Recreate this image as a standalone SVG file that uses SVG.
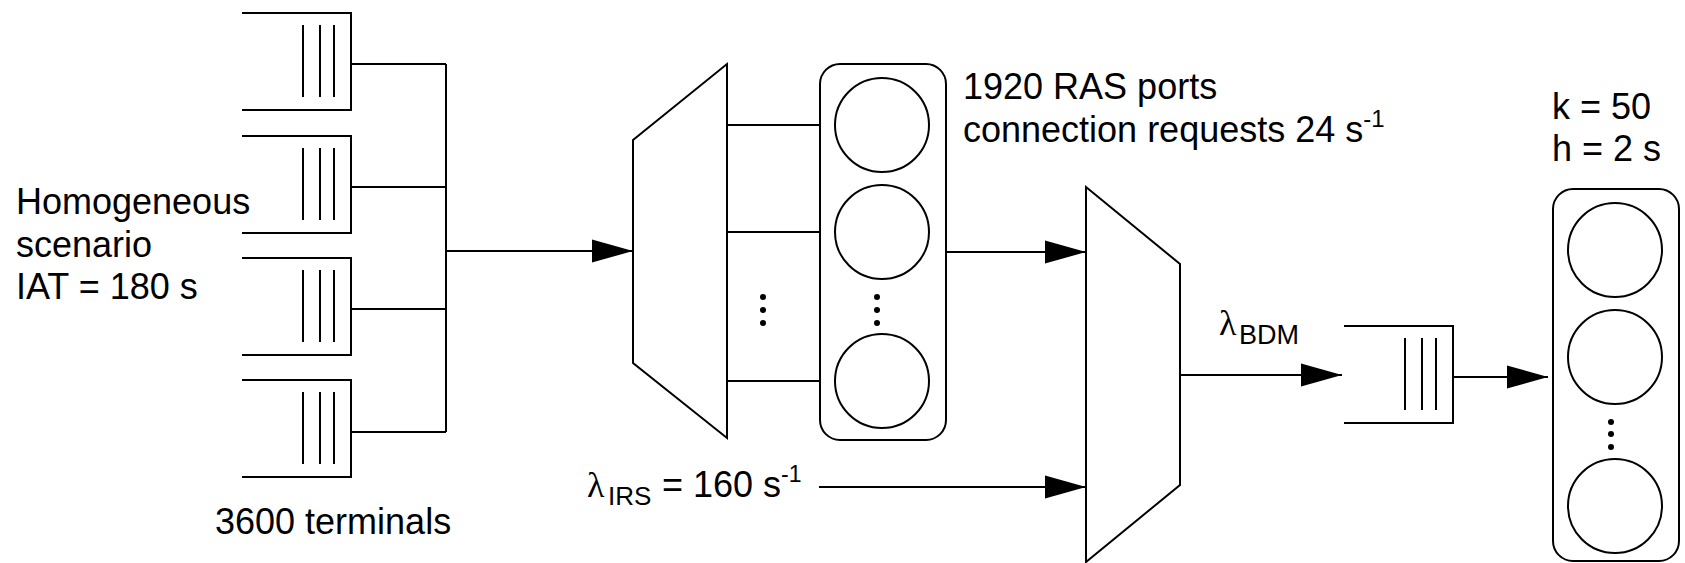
<svg xmlns="http://www.w3.org/2000/svg" width="1685" height="563" viewBox="0 0 1685 563">
<style>
.s{fill:none;stroke:#000;stroke-width:2}
.w{fill:#fff;stroke:#000;stroke-width:2}
.t{font-family:"Liberation Sans",Arial,Helvetica,sans-serif;font-size:36px;fill:#000}
.g{font-family:"Liberation Serif","Times New Roman",serif;font-size:36px;fill:#000}
.sub{font-family:"Liberation Sans",Arial,Helvetica,sans-serif;font-size:26px;fill:#000}
.d{fill:#000}
</style>
<defs>
<marker id="ah" markerUnits="userSpaceOnUse" markerWidth="42" markerHeight="24" refX="41" refY="12" orient="auto">
<path d="M0,0.5 L41,12 L0,23.5 z" fill="#000"/>
</marker>
<g id="queue">
<path class="s" d="M0,0 H109 V97 H0"/>
<path class="s" d="M61,12 V84 M78,12 V84 M92,12 V84"/>
</g>
</defs>
<rect width="1685" height="563" fill="#fff"/>

<g id="connectors">
<path class="s" d="M351,64 H446 M351,187 H446 M351,309 H446 M351,432 H446 M446,64 V432"/>
<path class="s" d="M446,251 H633" marker-end="url(#ah)"/>
<path class="s" d="M727,125 H820 M727,232 H820 M727,381 H820"/>
<path class="s" d="M946,252 H1086" marker-end="url(#ah)"/>
<path class="s" d="M819,487 H1086" marker-end="url(#ah)"/>
<path class="s" d="M1180,375 H1342" marker-end="url(#ah)"/>
<path class="s" d="M1454,377 H1548" marker-end="url(#ah)"/>
</g>

<g id="terminal-queue-1"><use href="#queue" transform="translate(242,13)"/></g>
<g id="terminal-queue-2"><use href="#queue" transform="translate(242,136)"/></g>
<g id="terminal-queue-3"><use href="#queue" transform="translate(242,258)"/></g>
<g id="terminal-queue-4"><use href="#queue" transform="translate(242,380)"/></g>

<g id="scenario-label">
<text class="t" x="16" y="214">Homogeneous</text>
<text class="t" x="16" y="257">scenario</text>
<text class="t" x="16" y="299">IAT = 180 s</text>
</g>
<g id="terminals-label">
<text class="t" x="215" y="534">3600 terminals</text>
</g>

<g id="mux-1">
<path class="w" d="M633,140 L727,64 V438 L633,363 Z"/>
<circle class="d" cx="763" cy="297" r="3"/>
<circle class="d" cx="763" cy="310" r="3"/>
<circle class="d" cx="763" cy="323" r="3"/>
</g>

<g id="ras-ports">
<rect class="s" x="820" y="64" width="126" height="376" rx="20" ry="20"/>
<circle class="s" cx="882" cy="125" r="47"/>
<circle class="s" cx="882" cy="232" r="47"/>
<circle class="s" cx="882" cy="381" r="47"/>
<circle class="d" cx="877" cy="297" r="3"/>
<circle class="d" cx="877" cy="310" r="3"/>
<circle class="d" cx="877" cy="323" r="3"/>
</g>
<g id="ras-label">
<text class="t" x="963" y="99">1920 RAS ports</text>
<text class="t" x="963" y="142">connection requests 24 s<tspan style="font-size:24px" dy="-15">-1</tspan></text>
</g>

<g id="irs-label">
<text class="g" x="587" y="497">λ</text>
<text class="sub" x="608" y="505">IRS</text>
<text class="t" x="662" y="497">= 160 s<tspan style="font-size:23px" dy="-15">-1</tspan></text>
</g>

<g id="mux-2">
<path class="w" d="M1086,187 L1180,264 V485 L1086,562 Z"/>
</g>

<g id="bdm-label">
<text class="g" x="1219" y="335">λ</text>
<text class="sub" x="1239" y="344" style="font-size:27px">BDM</text>
</g>

<g id="bdm-queue"><use href="#queue" transform="translate(1344,326)"/></g>

<g id="bdm-servers">
<rect class="s" x="1553" y="189" width="126" height="372" rx="20" ry="20"/>
<circle class="s" cx="1615" cy="250" r="47"/>
<circle class="s" cx="1615" cy="357" r="47"/>
<circle class="s" cx="1615" cy="506" r="47"/>
<circle class="d" cx="1611" cy="422" r="3"/>
<circle class="d" cx="1611" cy="434" r="3"/>
<circle class="d" cx="1611" cy="447" r="3"/>
</g>
<g id="bdm-label-k">
<text class="t" x="1552" y="119">k = 50</text>
<text class="t" x="1552" y="161">h = 2 s</text>
</g>
</svg>
